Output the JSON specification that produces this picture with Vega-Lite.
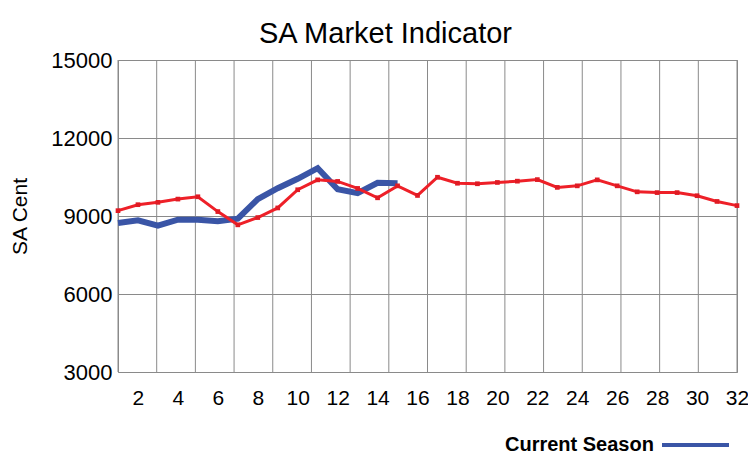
{
  "$schema": "https://vega.github.io/schema/vega-lite/v6.json",
  "width": 619,
  "height": 312,
  "autosize": "none",
  "padding": {"left": 118, "top": 60, "right": 11, "bottom": 87},
  "background": "white",
  "config": {
    "font": "Liberation Sans",
    "view": {"stroke": "#8a8a8a", "strokeWidth": 1}
  },
  "title": {
    "text": "SA Market Indicator",
    "fontSize": 29,
    "fontWeight": "normal",
    "font": "Liberation Sans",
    "color": "#000000",
    "anchor": "middle",
    "dx": -42,
    "offset": 0
  },
  "datasets": {
    "grid": [
      {"gx": 1}, {"gx": 2.9375}, {"gx": 4.875}, {"gx": 6.8125}, {"gx": 8.75},
      {"gx": 10.6875}, {"gx": 12.625}, {"gx": 14.5625}, {"gx": 16.5}, {"gx": 18.4375},
      {"gx": 20.375}, {"gx": 22.3125}, {"gx": 24.25}, {"gx": 26.1875}, {"gx": 28.125},
      {"gx": 30.0625}, {"gx": 32}
    ],
    "series": [
      {"week": 1, "value": 8730, "season": "Current Season"},
      {"week": 2, "value": 8835, "season": "Current Season"},
      {"week": 3, "value": 8630, "season": "Current Season"},
      {"week": 4, "value": 8860, "season": "Current Season"},
      {"week": 5, "value": 8860, "season": "Current Season"},
      {"week": 6, "value": 8800, "season": "Current Season"},
      {"week": 7, "value": 8900, "season": "Current Season"},
      {"week": 8, "value": 9650, "season": "Current Season"},
      {"week": 9, "value": 10070, "season": "Current Season"},
      {"week": 10, "value": 10430, "season": "Current Season"},
      {"week": 11, "value": 10840, "season": "Current Season"},
      {"week": 12, "value": 10030, "season": "Current Season"},
      {"week": 13, "value": 9880, "season": "Current Season"},
      {"week": 14, "value": 10280, "season": "Current Season"},
      {"week": 15, "value": 10260, "season": "Current Season"},
      {"week": 1, "value": 9205, "season": "Previous Season"},
      {"week": 2, "value": 9435, "season": "Previous Season"},
      {"week": 3, "value": 9525, "season": "Previous Season"},
      {"week": 4, "value": 9650, "season": "Previous Season"},
      {"week": 5, "value": 9740, "season": "Previous Season"},
      {"week": 6, "value": 9170, "season": "Previous Season"},
      {"week": 7, "value": 8660, "season": "Previous Season"},
      {"week": 8, "value": 8940, "season": "Previous Season"},
      {"week": 9, "value": 9310, "season": "Previous Season"},
      {"week": 10, "value": 10010, "season": "Previous Season"},
      {"week": 11, "value": 10390, "season": "Previous Season"},
      {"week": 12, "value": 10330, "season": "Previous Season"},
      {"week": 13, "value": 10060, "season": "Previous Season"},
      {"week": 14, "value": 9700, "season": "Previous Season"},
      {"week": 15, "value": 10160, "season": "Previous Season"},
      {"week": 16, "value": 9790, "season": "Previous Season"},
      {"week": 17, "value": 10490, "season": "Previous Season"},
      {"week": 18, "value": 10260, "season": "Previous Season"},
      {"week": 19, "value": 10240, "season": "Previous Season"},
      {"week": 20, "value": 10290, "season": "Previous Season"},
      {"week": 21, "value": 10340, "season": "Previous Season"},
      {"week": 22, "value": 10400, "season": "Previous Season"},
      {"week": 23, "value": 10100, "season": "Previous Season"},
      {"week": 24, "value": 10160, "season": "Previous Season"},
      {"week": 25, "value": 10390, "season": "Previous Season"},
      {"week": 26, "value": 10160, "season": "Previous Season"},
      {"week": 27, "value": 9930, "season": "Previous Season"},
      {"week": 28, "value": 9900, "season": "Previous Season"},
      {"week": 29, "value": 9900, "season": "Previous Season"},
      {"week": 30, "value": 9780, "season": "Previous Season"},
      {"week": 31, "value": 9560, "season": "Previous Season"},
      {"week": 32, "value": 9400, "season": "Previous Season"}
    ]
  },
  "layer": [
    {
      "data": {"name": "grid"},
      "mark": {"type": "rule", "color": "#8a8a8a", "strokeWidth": 1},
      "encoding": {
        "x": {"field": "gx", "type": "quantitative", "scale": {"domain": [1, 32], "nice": false, "zero": false}}
      }
    },
    {
      "data": {"name": "series"},
      "transform": [{"filter": "datum.season === 'Current Season'"}],
      "mark": {"type": "line", "strokeWidth": 6, "strokeJoin": "miter", "strokeCap": "butt"},
      "encoding": {
        "x": {
          "field": "week", "type": "quantitative",
          "scale": {"domain": [1, 32], "nice": false, "zero": false},
          "axis": {
            "title": null, "values": [2, 4, 6, 8, 10, 12, 14, 16, 18, 20, 22, 24, 26, 28, 30, 32],
            "grid": false, "ticks": false, "domain": false,
            "labelFontSize": 21, "labelColor": "#000000", "labelPadding": 15,
            "labelFlush": false, "labelOverlap": false, "labelBound": false,
            "labelFont": "Liberation Sans"
          }
        },
        "y": {
          "field": "value", "type": "quantitative",
          "scale": {"domain": [3000, 15000], "nice": false, "zero": false},
          "axis": {
            "title": "SA Cent", "values": [3000, 6000, 9000, 12000, 15000],
            "format": "d",
            "grid": true, "gridColor": "#8a8a8a", "gridOpacity": 1, "gridWidth": 1,
            "ticks": false, "domain": false,
            "labelFontSize": 22, "labelColor": "#000000", "labelPadding": 6,
            "labelFont": "Liberation Sans",
            "titleFontSize": 21, "titleFontWeight": "normal", "titleColor": "#000000",
            "titleFont": "Liberation Sans", "titlePadding": 20
          }
        },
        "color": {
          "field": "season", "type": "nominal",
          "scale": {"domain": ["Current Season"], "range": ["#3a55a6"]},
          "legend": {
            "orient": "none", "legendX": 387, "legendY": 375,
            "title": "Current Season", "titleOrient": "left",
            "titleFontSize": 20, "titleFontWeight": "bold", "titleColor": "#000000",
            "titleFont": "Liberation Sans",
            "titleBaseline": "middle", "titlePadding": 6,
            "labelExpr": "''", "labelFontSize": 1,
            "clipHeight": 20,
            "symbolType": "stroke", "symbolSize": 4489, "symbolStrokeWidth": 4,
            "symbolStrokeColor": "#2b3d92"
          }
        }
      }
    },
    {
      "data": {"name": "series"},
      "transform": [{"filter": "datum.season === 'Previous Season'"}],
      "mark": {"type": "line", "strokeWidth": 3, "color": "#ee2028", "point": {"shape": "square", "size": 22, "filled": true, "color": "#e01b24"}},
      "encoding": {
        "x": {"field": "week", "type": "quantitative"},
        "y": {"field": "value", "type": "quantitative"}
      }
    }
  ]
}
